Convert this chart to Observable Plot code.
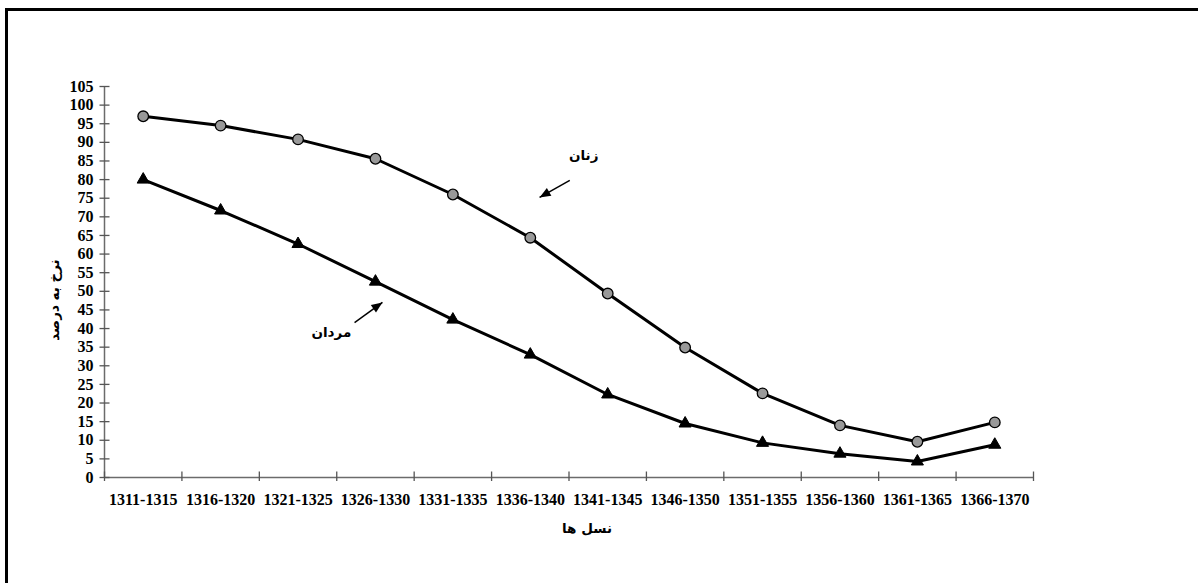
<!DOCTYPE html>
<html>
<head>
<meta charset="utf-8">
<script src="https://cdn.jsdelivr.net/npm/d3@7"></script>
<script src="https://cdn.jsdelivr.net/npm/@observablehq/plot@0.6"></script>
<style>
  html, body { margin: 0; padding: 0; background: #fff; }
  #wrap { position: relative; width: 1198px; height: 583px; overflow: hidden; }
  #frame { position: absolute; left: 5px; top: 8px; right: -10px; bottom: -10px;
           border-top: 3px solid #000; border-left: 3px solid #000; pointer-events: none; }
  #chart { position: absolute; left: 0; top: 0; }
</style>
</head>
<body>
<div id="wrap"><div id="chart"></div><div id="frame"></div></div>
<script>
// ---- data ----
const periods = ["1311-1315","1316-1320","1321-1325","1326-1330","1331-1335","1336-1340",
                 "1341-1345","1346-1350","1351-1355","1356-1360","1361-1365","1366-1370"];
const women = [97, 94.5, 90.8, 85.6, 76, 64.4, 49.4, 34.9, 22.6, 14, 9.6, 14.8];
const men   = [80, 71.7, 62.7, 52.6, 42.4, 33, 22.3, 14.5, 9.3, 6.4, 4.3, 8.8];
const yTicks = [0,5,10,15,20,25,30,35,40,45,50,55,60,65,70,75,80,85,90,95,100,105];
const womenLabel = "زنان";
const menLabel = "مردان";
const xTitle = "نسل ها";
const yTitle = "نرخ به درصد";

// ---- build ----
const idx = periods.map((_, i) => i);
const bounds = d3.range(periods.length + 1).map(i => i - 0.5);
const womenData = women.map((v, i) => ({i, v}));
const menData = men.map((v, i) => ({i, v}));

const numFont = "'Liberation Serif', 'Times New Roman', serif";
const arFont = "'DejaVu Sans', sans-serif";

const vTick = { draw(ctx) { ctx.moveTo(0, -6); ctx.lineTo(0, 3.5); } };
const hTick = { draw(ctx) { ctx.moveTo(-5, 0); ctx.lineTo(5, 0); } };
const head = { draw(ctx) { ctx.moveTo(0, 0); ctx.lineTo(-4.5, 11); ctx.lineTo(4.5, 11); ctx.closePath(); } };

const annotations = [
  {text: womenLabel, tx: 5.69, ty: 86.5, x1: 5.51, y1: 79.8, x2: 5.12, y2: 75.2, rot: 240},
  {text: menLabel,   tx: 2.43, ty: 38.9, x1: 2.73, y1: 41.6, x2: 3.09, y2: 47.0, rot: 55}
];

const plot = Plot.plot({
  width: 1198,
  height: 583,
  marginLeft: 104,
  marginRight: 165,
  marginTop: 86,
  marginBottom: 106,
  x: { domain: [-0.5, periods.length - 0.5], axis: null },
  y: { domain: [0, 105], axis: null },
  style: { background: "transparent", overflow: "visible" },
  marks: [
    // axes
    Plot.ruleY([0], { stroke: "#6b6b6b", strokeWidth: 1.5 }),
    Plot.ruleX([-0.5], { stroke: "#6b6b6b", strokeWidth: 1.5 }),
    Plot.dot(bounds, { x: d => d, y: 0, symbol: vTick, r: 3, stroke: "#555", strokeWidth: 1.3, fill: "none" }),
    Plot.dot(yTicks, { x: -0.5, y: d => d, symbol: hTick, r: 3, stroke: "#555", strokeWidth: 1.3, fill: "none" }),
    Plot.text(yTicks, { x: -0.5, y: d => d, text: d => String(d), dx: -11, textAnchor: "end",
      fontFamily: numFont, fontWeight: "bold", fontSize: 16, fill: "#000" }),
    Plot.text(idx, { x: d => d, y: 0, text: d => periods[d], dy: 22,
      fontFamily: numFont, fontWeight: "bold", fontSize: 16, fill: "#000" }),
    // series
    Plot.line(womenData, { x: "i", y: "v", stroke: "#000", strokeWidth: 3 }),
    Plot.line(menData, { x: "i", y: "v", stroke: "#000", strokeWidth: 3 }),
    Plot.dot(womenData, { x: "i", y: "v", r: 5.3, fill: "#999", stroke: "#000", strokeWidth: 1.3 }),
    Plot.dot(menData, { x: "i", y: "v", r: 4.5, symbol: "triangle", fill: "#000", stroke: "#000", strokeWidth: 1 }),
    // annotations
    Plot.text(annotations, { x: "tx", y: "ty", text: "text", fontFamily: arFont, fontWeight: "bold", fontSize: 13.5, fill: "#000" }),
    Plot.link(annotations, { x1: "x1", y1: "y1", x2: "x2", y2: "y2", stroke: "#000", strokeWidth: 1.5 }),
    Plot.dot(annotations, { x: "x2", y: "y2", symbol: head, r: 3, rotate: "rot", fill: "#000", stroke: "none" })
  ]
});

// axis titles as real text added into the svg
const svg = d3.select(plot);
svg.append("text")
  .attr("x", 587).attr("y", 533)
  .attr("text-anchor", "middle")
  .attr("font-family", arFont).attr("font-weight", "bold").attr("font-size", 13.5)
  .attr("direction", "rtl")
  .text(xTitle);
svg.append("text")
  .attr("transform", "translate(55,300) rotate(-90)")
  .attr("text-anchor", "middle")
  .attr("dominant-baseline", "middle")
  .attr("font-family", arFont).attr("font-weight", "bold").attr("font-size", 13.5)
  .attr("direction", "rtl")
  .text(yTitle);

document.getElementById("chart").appendChild(plot);
</script>
</body>
</html>
